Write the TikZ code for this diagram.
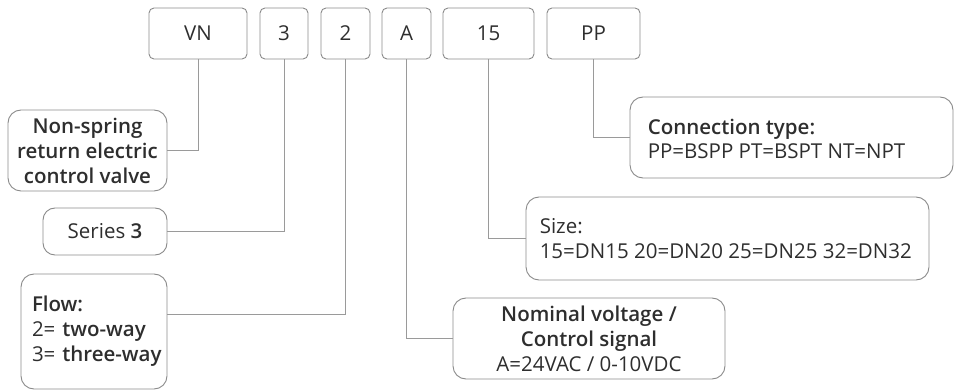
\documentclass[tikz,border=0pt]{standalone}
\usepackage{fontspec}
\IfFontExistsTF{Open Sans Semibold}
  {\setmainfont{Open Sans}[BoldFont={Open Sans Semibold}]}
  {\IfFontExistsTF{OpenSans-Semibold.otf}
    {\setmainfont{Open Sans}[BoldFont={OpenSans-Semibold.otf}]}
    {\IfFontExistsTF{Open Sans SemiBold}
      {\setmainfont{Open Sans}[BoldFont={Open Sans SemiBold}]}
      {\setmainfont{Open Sans}[BoldFont={Open Sans}, BoldFeatures={FakeBold=1.2}]}}}
\definecolor{bordc}{HTML}{8A8A8A}
\definecolor{linec}{HTML}{9A9A9A}
\definecolor{txt}{HTML}{2E2E2E}
\begin{document}
\begin{tikzpicture}[x=1pt,y=-1pt,
  codebox/.style={draw=bordc, line width=0.9pt, rounded corners=5pt, minimum height=51pt, inner sep=0pt, text=txt, font=\fontsize{20.5}{25}\selectfont},
  callbox/.style={draw=bordc, line width=0.9pt, rounded corners=13pt, inner sep=0pt, text=txt, font=\fontsize{20.5}{25}\selectfont},
  link/.style={draw=linec, line width=1pt}]
\useasboundingbox (0,0) rectangle (980,390);
% code boxes
\node[codebox, minimum width=98pt] (vn) at (198,33.5) {VN};
\node[codebox, minimum width=48pt] (c3) at (284,33.5) {3};
\node[codebox, minimum width=49pt] (c2) at (345.5,33.5) {2};
\node[codebox, minimum width=49pt] (cA) at (406.5,33.5) {A};
\node[codebox, minimum width=91pt] (c15) at (488.5,33.5) {15};
\node[codebox, minimum width=93pt] (cPP) at (593.5,33.5) {PP};
% callouts
\node[callbox, minimum width=159pt, minimum height=81pt, align=center] (ns) at (87.5,150.5)
  {\textbf{Non-spring}\\\textbf{return electric}\\\textbf{control valve}};
\node[callbox, minimum width=124pt, minimum height=47pt, rounded corners=12pt] (ser) at (105,231.5)
  {Series \textbf{3}};
\node[callbox, minimum width=146pt, minimum height=115pt, text width=124pt, inner xsep=11pt, align=left] (flow) at (94,331.5)
  {\textbf{Flow:}\\\mbox{2= \textbf{two-way}}\\\mbox{3= \textbf{three-way}}};
\node[callbox, minimum width=272pt, minimum height=81pt, align=center] (nom) at (589,338.5)
  {\textbf{Nominal voltage /}\\\textbf{Control signal}\\A=24VAC / 0-10VDC};
\node[callbox, minimum width=403pt, minimum height=83pt, align=left] (size) at (727.5,238.5) {};
\node[anchor=west, inner sep=0pt, text=txt, align=left, font=\fontsize{20.5}{25}\selectfont] (sizet) at ([xshift=14pt]size.west)
  {Size:\\15=DN15 20=DN20 25=DN25 32=DN32};
\node[callbox, minimum width=323pt, minimum height=81pt] (con) at (791.5,137.5) {};
\node[anchor=west, inner sep=0pt, text=txt, align=left, font=\fontsize{20.5}{24}\selectfont] (cont) at ([xshift=18pt,yshift=-1pt]con.west)
  {\textbf{Connection type:}\\PP=BSPP PT=BSPT NT=NPT};
% connectors
\draw[link] (vn.south) |- (ns.east);
\draw[link] (c3.south) |- (ser.east);
\draw[link] (c2.south) |- ([yshift=17.5pt]flow.east);
\draw[link] (cA.south) |- (nom.west);
\draw[link] (c15.south) |- (size.west);
\draw[link] (cPP.south) |- (con.west);
\end{tikzpicture}
\end{document}
